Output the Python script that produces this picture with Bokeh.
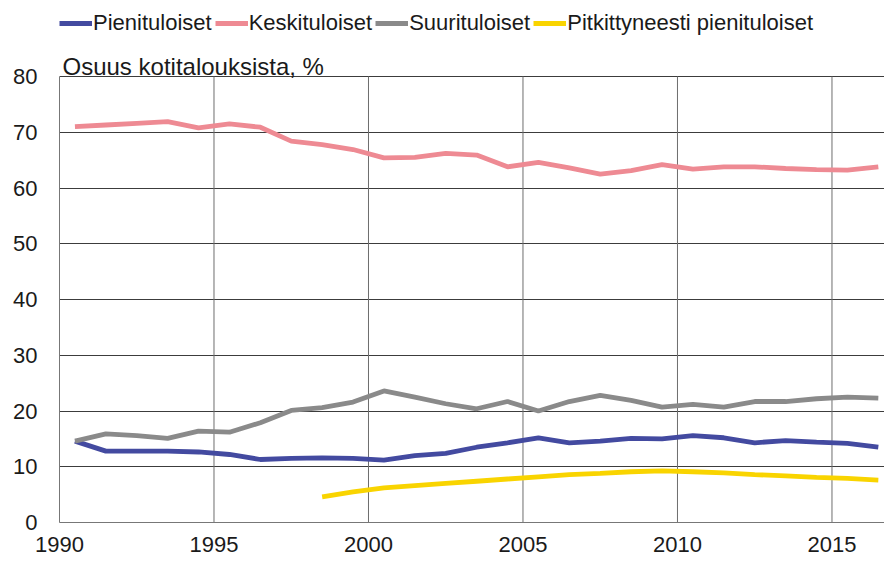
from bokeh.plotting import figure
from bokeh.models import (Range1d, FixedTicker, Legend, LegendItem, Label)
from bokeh.embed import file_html
from bokeh.resources import INLINE

years = list(range(1990, 2017))
pienituloiset = [14.6, 12.8, 12.8, 12.8, 12.65, 12.2, 11.3, 11.5, 11.6, 11.5, 11.2, 12.0, 12.4,
                 13.5, 14.3, 15.2, 14.3, 14.6, 15.1, 15.0, 15.6, 15.2, 14.3, 14.7, 14.4, 14.2, 13.5]
keskituloiset = [71.0, 71.3, 71.6, 71.9, 70.8, 71.5, 70.9, 68.4, 67.8, 66.9, 65.4, 65.5, 66.2,
                 65.9, 63.8, 64.6, 63.6, 62.5, 63.1, 64.2, 63.4, 63.8, 63.8, 63.5, 63.3, 63.2, 63.8]
suurituloiset = [14.6, 15.9, 15.6, 15.1, 16.4, 16.2, 17.9, 20.1, 20.6, 21.6, 23.6, 22.5, 21.3,
                 20.4, 21.7, 20.0, 21.7, 22.8, 21.9, 20.7, 21.2, 20.7, 21.7, 21.7, 22.2, 22.5, 22.3]
pitk_years = list(range(1998, 2017))
pitkittyneesti = [4.6, 5.5, 6.2, 6.6, 7.0, 7.4, 7.8, 8.2, 8.6, 8.8, 9.1, 9.25, 9.1, 8.9, 8.6,
                  8.35, 8.1, 7.9, 7.6]

series_names = ["Pienituloiset", "Keskituloiset", "Suurituloiset", "Pitkittyneesti pienituloiset"]
colors = ["#434aa0", "#ee8a93", "#8a8a8a", "#f9d400"]
y_title = "Osuus kotitalouksista, %"
x_ticks = [1990, 1995, 2000, 2005, 2010, 2015]
y_ticks = [0, 10, 20, 30, 40, 50, 60, 70, 80]
y_max = 80

FONT = "Liberation Sans"
TXT = "#1a1a1a"

# frame runs from the top of the figure down to the x axis; the area above 80 holds title + legend
frame_h = 522
top_px = 76
y_top = y_max * frame_h / (frame_h - top_px)

p = figure(width=884, height=563, output_backend="svg", toolbar_location=None,
           x_range=Range1d(1990, 2016.7), y_range=Range1d(0, y_top),
           min_border_left=59, min_border_right=0, min_border_top=0, min_border_bottom=41)
p.outline_line_color = None
p.background_fill_color = "white"
p.border_fill_color = "white"

# vertical grid lines only up to the top of the value scale
p.xgrid.visible = False
p.segment(x0=x_ticks, y0=[0] * len(x_ticks), x1=x_ticks, y1=[y_max] * len(x_ticks),
          line_color="#6e6e6e", line_width=1)

xs_main = [y + 0.5 for y in years]
xs_pitk = [y + 0.5 for y in pitk_years]

r1 = p.line(xs_main, pienituloiset, line_color=colors[0], line_width=4.8)
r2 = p.line(xs_main, keskituloiset, line_color=colors[1], line_width=4.8)
r3 = p.line(xs_main, suurituloiset, line_color=colors[2], line_width=4.8)
r4 = p.line(xs_pitk, pitkittyneesti, line_color=colors[3], line_width=4.8)

p.xaxis.ticker = FixedTicker(ticks=x_ticks)
p.yaxis.ticker = FixedTicker(ticks=y_ticks)
p.yaxis.bounds = (0, y_max)
for ax in (p.xaxis[0], p.yaxis[0]):
    ax.major_tick_line_color = None
    ax.minor_tick_line_color = None
    ax.major_tick_out = 0
    ax.major_tick_in = 0
    ax.axis_line_color = "#777777"
    ax.major_label_text_font = FONT
    ax.major_label_text_font_size = "22px"
    ax.major_label_text_color = TXT
p.xaxis.major_label_standoff = 14
p.yaxis.major_label_standoff = 22

p.ygrid.grid_line_color = "#3c3c3c"
p.ygrid.grid_line_width = 1

title = Label(x=1990, y=y_max, x_units="data", y_units="data", x_offset=3, y_offset=-3,
              text=y_title, text_font=FONT, text_font_size="24px", text_color=TXT,
              text_baseline="bottom", text_align="left")
p.add_layout(title)

legend = Legend(items=[LegendItem(label=n, renderers=[r]) for n, r in zip(series_names, [r1, r2, r3, r4])],
                orientation="horizontal", location=(0, 486),
                padding=0, margin=0, spacing=3, label_standoff=1,
                glyph_width=33, glyph_height=22, label_height=22,
                label_text_font=FONT, label_text_font_size="22px", label_text_color=TXT,
                background_fill_alpha=0, border_line_alpha=0)
p.add_layout(legend, "center")

open("out.html", "w").write(file_html(p, INLINE))
